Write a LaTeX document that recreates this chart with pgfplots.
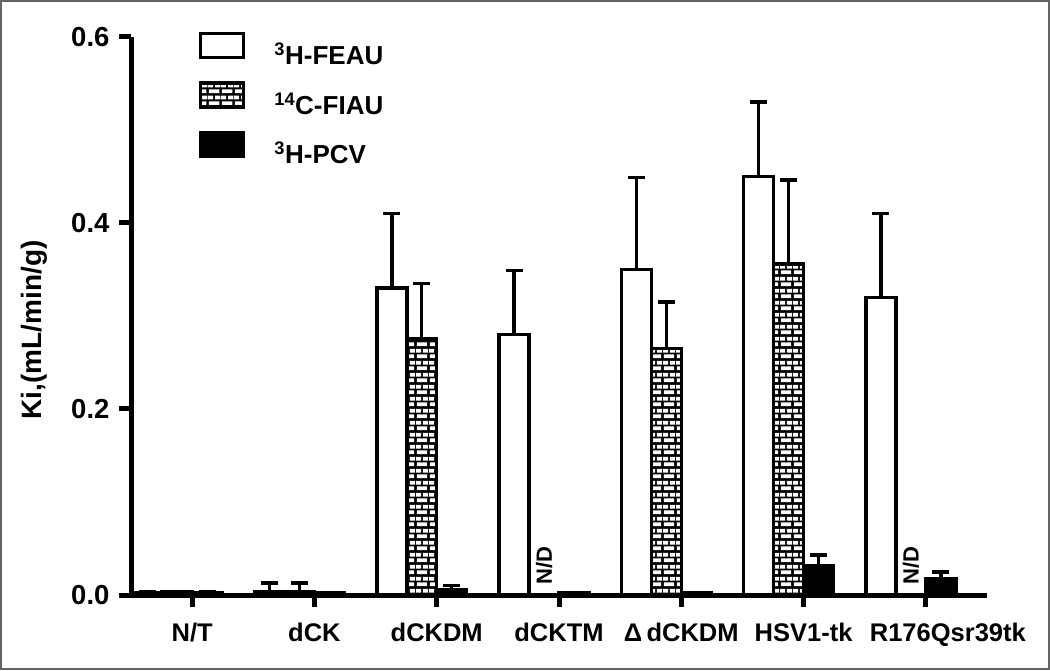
\documentclass[border=0pt]{standalone}
\usepackage{fontspec}
\setmainfont{Liberation Sans}
\usepackage{pgfplots}
\usepackage{pgfplotstable}
\pgfplotsset{compat=1.18}
\usetikzlibrary{patterns}
\pgfdeclarepatternformonly{mybricks}{\pgfqpoint{0pt}{0pt}}{\pgfqpoint{13pt}{12pt}}{\pgfqpoint{13pt}{12pt}}{%
 \pgfpathrectangle{\pgfqpoint{1pt}{1pt}}{\pgfqpoint{11pt}{4pt}}%
 \pgfpathrectangle{\pgfqpoint{0pt}{7pt}}{\pgfqpoint{5.5pt}{4pt}}%
 \pgfpathrectangle{\pgfqpoint{7.5pt}{7pt}}{\pgfqpoint{5.5pt}{4pt}}%
 \pgfusepath{fill}}
\definecolor{framegray}{RGB}{100,100,100}
\pgfplotsset{boxlegend/.style={legend image code/.code={\draw[##1] (0pt,-3pt) rectangle (43pt,21pt);}}}

\pgfplotstableread{
x y e
0 0.002 0.001
1 0.004 0.009
2 0.330 0.080
3 0.280 0.069
4 0.350 0.099
5 0.450 0.080
6 0.320 0.090
}\feau
\pgfplotstableread{
x y e
0 0.003 0.001
1 0.003 0.010
2 0.275 0.060
4 0.265 0.050
5 0.356 0.090
}\fiau
\pgfplotstableread{
x y e
0 0.002 0.001
1 0.002 0.000
2 0.006 0.004
3 0.002 0.000
4 0.002 0.000
5 0.031 0.012
6 0.018 0.007
}\pcv

\begin{document}
\begin{tikzpicture}
\draw[framegray, line width=2pt] (1pt,1pt) rectangle (1049pt,669pt);
\begin{axis}[
  at={(131pt,75pt)}, anchor=south west,
  scale only axis, width=856pt, height=558pt,
  xmin=-0.5, xmax=6.5, ymin=0, ymax=0.6,
  axis x line*=bottom, axis y line*=left,
  axis line style={line width=5pt, -, black},
  axis on top,
  tick align=outside, major tick length=12pt,
  tick style={line width=5pt, black},
  xtick={0,1,2,3,4,5,6},
  xticklabels={N/T, dCK, dCKDM, dCKTM, Δ\,dCKDM, HSV1-tk, \hspace*{44pt}R176Qsr39tk},
  x tick label style={font=\fontsize{25.5}{28}\selectfont\bfseries, yshift=-12pt},
  ytick={0,0.2,0.4,0.6},
  y tick label style={/pgf/number format/.cd, fixed, fixed zerofill, precision=1, assume math mode=true, /tikz/.cd, font=\fontsize{27.5}{30}\selectfont\bfseries, xshift=-6pt},
  ylabel={Ki,(mL/min/g)},
  ylabel style={font=\fontsize{28}{32}\selectfont\bfseries, at={(axis description cs:-0.113,0.475)}, anchor=center},
  legend cell align=left,
  legend style={at={(axis description cs:0.0794,1.009)}, anchor=north west, draw=none, fill=none, inner sep=0pt, outer sep=0pt, row sep=12pt, column sep=26pt, nodes={inner sep=3pt}, font=\fontsize{26}{28}\selectfont\bfseries},
  error bars/y dir=plus, error bars/y explicit,
  error bars/error bar style={line width=3.5pt, black},
  error bars/error mark options={rotate=90, line width=3.5pt, mark size=8.5pt, black},
]
\addplot[ybar, bar width=0.245, bar shift=0pt, fill=white, draw=black, line width=3.5pt, boxlegend]
  table[x expr=\thisrow{x}-0.3675, y=y, y error=e] {\feau};
\addlegendentry{\textsuperscript{3}H-FEAU}
\addplot[ybar, bar width=0.245, bar shift=0pt, fill=black, draw=black, line width=3.5pt,
  postaction={pattern=mybricks, pattern color=white}, boxlegend]
  table[x expr=\thisrow{x}-0.1225, y=y, y error=e] {\fiau};
\addlegendentry{\textsuperscript{14}C-FIAU}
\addplot[ybar, bar width=0.245, bar shift=0pt, fill=black, draw=black, line width=3.5pt, boxlegend]
  table[x expr=\thisrow{x}+0.1225, y=y, y error=e] {\pcv};
\addlegendentry{\textsuperscript{3}H-PCV}
\node[rotate=90, anchor=west, inner sep=0pt, font=\fontsize{22}{26}\selectfont\bfseries] at (axis cs:2.8775,0.011) {N/D};
\node[rotate=90, anchor=west, inner sep=0pt, font=\fontsize{22}{26}\selectfont\bfseries] at (axis cs:5.8775,0.011) {N/D};
\end{axis}
\pgfresetboundingbox
\path[use as bounding box] (0,0) rectangle (1050pt,670pt);
\end{tikzpicture}
\end{document}
